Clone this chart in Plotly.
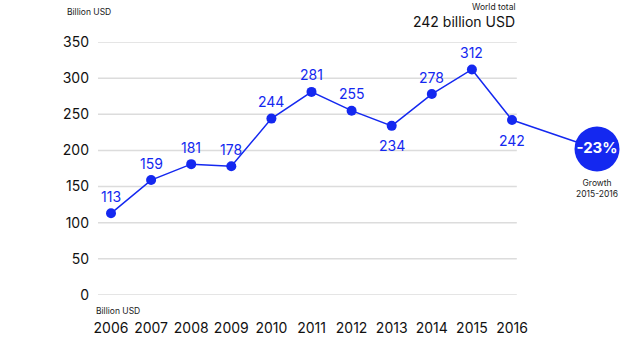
import plotly.graph_objects as go

years = [2006, 2007, 2008, 2009, 2010, 2011, 2012, 2013, 2014, 2015, 2016]
values = [113, 159, 181, 178, 244, 281, 255, 234, 278, 312, 242]
label_below = [2013, 2016]
y_ticks = [0, 50, 100, 150, 200, 250, 300, 350]
growth_label = "-23%"
growth_caption = "Growth<br>2015-2016"
world_total_title = "World total"
world_total_value = "242 billion USD"
unit_label = "Billion USD"

BLUE = "#1428f0"
FONT = "Inter, Open Sans, sans-serif"

# layout geometry (pixels -> data)
px_per_year = 40.1
plot_left_px = 98
x0 = 2006 - (111 - plot_left_px) / px_per_year
x1 = x0 + (640 - plot_left_px) / px_per_year
grid_end = 2016.12
bubble_x = 2018.12
bubble_y = 202

fig = go.Figure()

for v in y_ticks:
    fig.add_shape(type="line", xref="x", yref="y", x0=x0, x1=grid_end, y0=v, y1=v,
                  line=dict(color="#dcdcdc", width=1.5), layer="below")

# connector to growth bubble
fig.add_trace(go.Scatter(x=[years[-1], bubble_x], y=[values[-1], bubble_y], mode="lines",
                         line=dict(color=BLUE, width=1.5), hoverinfo="skip", cliponaxis=False))

fig.add_trace(go.Scatter(
    x=years, y=values, mode="lines+markers",
    line=dict(color=BLUE, width=1.5),
    marker=dict(color=BLUE, size=10),
    cliponaxis=False,
))

for yr, v in zip(years, values):
    below = yr in label_below
    fig.add_annotation(x=yr, y=v, xref="x", yref="y", text=str(v), showarrow=False,
                       yshift=-20 if below else 17, yanchor="middle",
                       font=dict(color=BLUE, size=14, family=FONT))

fig.add_trace(go.Scatter(
    x=[bubble_x], y=[bubble_y], mode="markers+text", text=[f"<b>{growth_label}</b>"],
    textposition="middle center",
    textfont=dict(color="white", size=15, family=FONT),
    marker=dict(color=BLUE, size=45), cliponaxis=False,
))

fig.add_annotation(x=bubble_x, y=bubble_y, xref="x", yref="y", yshift=-27,
                   text=growth_caption, showarrow=False, yanchor="top",
                   font=dict(size=8.5, color="#222", family=FONT))

fig.add_annotation(x=grid_end, y=1.138, xref="paper" if False else "x", yref="paper",
                   text=world_total_title, showarrow=False, xanchor="right", yanchor="middle",
                   font=dict(size=8.5, color="#222", family=FONT))
fig.add_annotation(x=grid_end, y=1.083, xref="x", yref="paper", text=world_total_value,
                   showarrow=False, xanchor="right", yanchor="middle",
                   font=dict(size=14, color="#111", family=FONT))

fig.add_annotation(x=-0.061, y=1.119, xref="paper", yref="paper", text=unit_label,
                   showarrow=False, xanchor="left", yanchor="middle",
                   font=dict(size=8.5, color="#222", family=FONT))
fig.add_annotation(x=x0, y=0, xref="x", yref="y", yshift=-16, xshift=-4, text=unit_label,
                   showarrow=False, xanchor="left", yanchor="middle",
                   font=dict(size=8.5, color="#222", family=FONT))

fig.update_layout(
    width=640, height=350,
    margin=dict(l=plot_left_px, r=0, t=42, b=55),
    paper_bgcolor="white", plot_bgcolor="white",
    showlegend=False,
    font=dict(family=FONT, color="#111"),
)
fig.update_xaxes(range=[x0, x1], tickvals=years, ticktext=[str(y) for y in years],
                 showgrid=False, zeroline=False, showline=False, ticks="",
                 ticklabelstandoff=23, tickfont=dict(size=14, color="#111", family=FONT))
fig.update_yaxes(range=[0, 350], tickvals=y_ticks, showgrid=False, zeroline=False,
                 showline=False, ticks="", ticklabelstandoff=8,
                 tickfont=dict(size=14, color="#111", family=FONT))

fig.write_html("out.html")
